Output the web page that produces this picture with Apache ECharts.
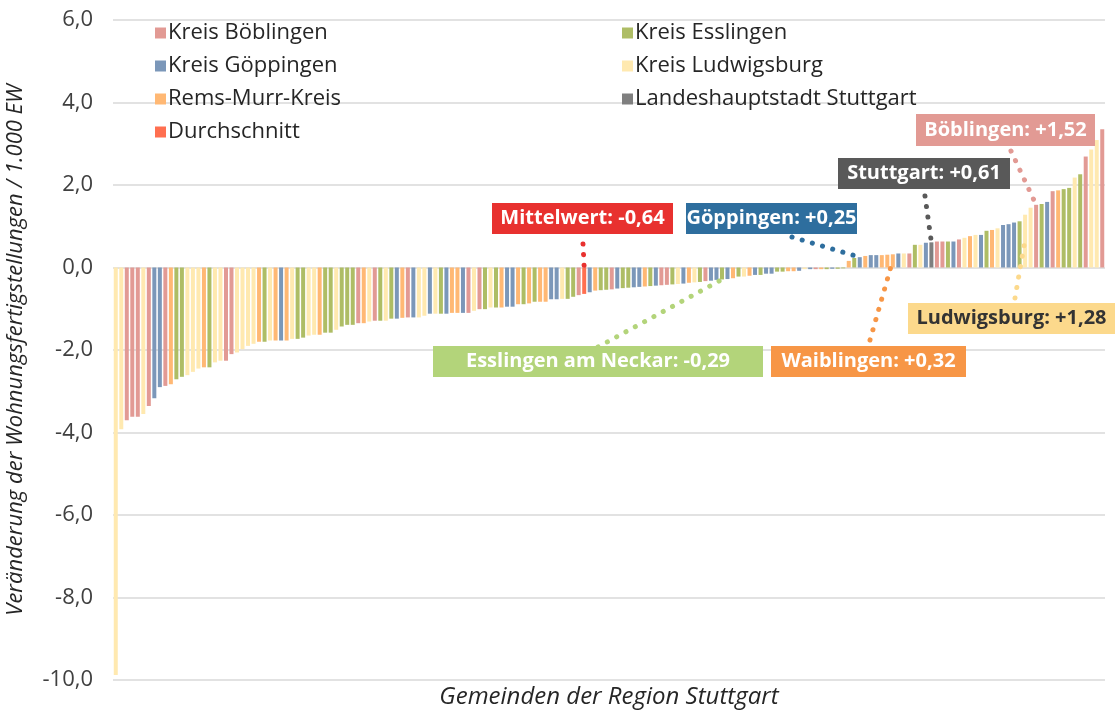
<!DOCTYPE html>
<html>
<head>
<meta charset="utf-8">
<script src="https://cdn.jsdelivr.net/npm/echarts@6/dist/echarts.min.js"></script>
<style>
  html, body { margin: 0; padding: 0; background: #fff; }
  #chart { width: 1115px; height: 711px; }
</style>
</head>
<body>
<div id="chart"></div>
<script>
// Kreis je Gemeinde (B=Böblingen, G=Göppingen, R=Rems-Murr, D=Durchschnitt, E=Esslingen, L=Ludwigsburg, S=Stuttgart)
var kreise = [
  'L','L','B','B','B','L','B','G','G','B','R','E','E','L','L','L','R','E','L','L',
  'B','B','L','L','L','L','R','E','L','R','G','R','L','E','E','L','L','R','E','E',
  'L','E','E','E','B','R','L','B','E','L','E','G','R','B','G','L','L','G','L','E',
  'G','R','R','G','B','L','B','E','L','E','R','G','G','R','E','R','E','R','R','G',
  'G','L','E','E','B','D','G','R','E','E','B','G','E','E','G','G','R','E','G','B',
  'B','E','L','G','R','L','E','B','G','G','E','G','R','E','L','R','G','E','G','G',
  'E','E','R','R','G','L','G','B','R','E','G','E','E','R','E','G','R','G','G','R',
  'R','R','G','L','B','E','L','G','S','B','B','E','G','B','L','R','L','G','E','R',
  'L','G','G','G','E','L','L','B','E','G','B','R','E','E','L','E','B','L','L','B'
];
// Veränderung der Wohnungsfertigstellungen je 1.000 EW
var werte = [
  -9.88,-3.92,-3.70,-3.62,-3.62,-3.55,-3.36,-3.17,-2.90,-2.87,-2.83,-2.71,-2.65,-2.61,-2.53,-2.45,-2.42,-2.42,-2.30,-2.26,
  -2.26,-2.10,-2.06,-1.98,-1.90,-1.85,-1.80,-1.80,-1.77,-1.77,-1.77,-1.77,-1.73,-1.73,-1.70,-1.65,-1.63,-1.63,-1.58,-1.58,
  -1.51,-1.43,-1.39,-1.39,-1.35,-1.35,-1.31,-1.29,-1.29,-1.29,-1.24,-1.24,-1.22,-1.21,-1.21,-1.21,-1.17,-1.12,-1.12,-1.12,
  -1.12,-1.10,-1.10,-1.10,-1.10,-1.05,-1.01,-1.01,-0.97,-0.97,-0.97,-0.95,-0.95,-0.89,-0.89,-0.87,-0.83,-0.83,-0.83,-0.77,
  -0.77,-0.76,-0.76,-0.71,-0.67,-0.64,-0.60,-0.56,-0.55,-0.54,-0.53,-0.51,-0.50,-0.49,-0.48,-0.47,-0.46,-0.45,-0.44,-0.43,
  -0.42,-0.41,-0.40,-0.39,-0.37,-0.36,-0.35,-0.33,-0.32,-0.30,-0.29,-0.28,-0.26,-0.22,-0.22,-0.20,-0.18,-0.18,-0.15,-0.15,
  -0.10,-0.10,-0.09,-0.09,-0.08,-0.04,-0.04,-0.04,-0.04,-0.04,-0.03,-0.03,-0.02,0.16,0.23,0.25,0.28,0.30,0.30,0.30,
  0.31,0.32,0.34,0.34,0.34,0.55,0.55,0.60,0.61,0.63,0.63,0.63,0.63,0.68,0.72,0.76,0.79,0.79,0.89,0.91,
  0.95,1.03,1.05,1.09,1.12,1.28,1.45,1.52,1.54,1.59,1.85,1.87,1.90,1.93,2.18,2.26,2.69,2.86,3.09,3.35
];
var gemeinden = werte.map(function (v, i) { return 'Gemeinde ' + (i + 1); });

var legende = [
  { key: 'B', name: 'Kreis Böblingen', color: '#E29A94' },
  { key: 'G', name: 'Kreis Göppingen', color: '#7B97B9' },
  { key: 'R', name: 'Rems-Murr-Kreis', color: '#FFB874' },
  { key: 'D', name: 'Durchschnitt', color: '#FF6F50' },
  { key: 'E', name: 'Kreis Esslingen', color: '#AEBD65' },
  { key: 'L', name: 'Kreis Ludwigsburg', color: '#FFE9B0' },
  { key: 'S', name: 'Landeshauptstadt Stuttgart', color: '#7F7F7F' }
];
var yTicks = [-10, -8, -6, -4, -2, 0, 2, 4, 6];

// Beschriftungen: Index der Gemeinde, Text, Farbe, Box, Startpunkt der Punktlinie, Endwert
var hinweise = [
  { idx: 167, text: 'Böblingen: +1,52', bg: '#E29A94', fg: '#fff', box: [916, 114, 179, 32], from: [1011, 151], endVal: 1.52 },
  { idx: 148, text: 'Stuttgart: +0,61', bg: '#595959', fg: '#fff', box: [838, 158, 172, 31], from: [925, 196], endVal: 0.61 },
  { idx: 85, text: 'Mittelwert: -0,64', bg: '#E8312F', fg: '#fff', box: [492, 203, 181, 31], from: [583, 244], endVal: 0 },
  { idx: 135, text: 'Göppingen: +0,25', bg: '#2E6E9E', fg: '#fff', box: [686, 203, 171, 31], from: [792, 237], endVal: 0.25 },
  { idx: 165, text: 'Ludwigsburg: +1,28', bg: '#FCD98C', fg: '#333', box: [908, 303, 207, 31], from: [1015, 298], endVal: 0.67 },
  { idx: 110, text: 'Esslingen am Neckar: -0,29', bg: '#B3D47A', fg: '#fff', box: [433, 346, 330, 31], from: [598, 347], endVal: -0.29 },
  { idx: 141, text: 'Waiblingen: +0,32', bg: '#F79646', fg: '#fff', box: [771, 346, 195, 31], from: [870, 340], endVal: 0.18 }
];

var chart = echarts.init(document.getElementById('chart'));

var series = legende.map(function (l) {
  return {
    name: l.name,
    type: 'bar',
    barWidth: 4,
    barGap: '-100%',
    itemStyle: { color: l.color },
    data: werte.map(function (v, i) { return kreise[i] === l.key ? v : '-'; })
  };
});

var option = {
  animation: false,
  textStyle: { fontFamily: 'Open Sans' },
  grid: { left: 113, right: 10, top: 20, bottom: 31, outerBoundsMode: 'none' },
  legend: [
    {
      orient: 'vertical', left: 150, top: 17, itemGap: 11,
      itemWidth: 11, itemHeight: 11, icon: 'rect',
      textStyle: { fontSize: 22, color: '#262626', lineHeight: 22, padding: [0, 0, 0, -3] },
      data: legende.slice(0, 4).map(function (l) { return l.name; })
    },
    {
      orient: 'vertical', left: 617, top: 17, itemGap: 11,
      itemWidth: 11, itemHeight: 11, icon: 'rect',
      textStyle: { fontSize: 22, color: '#262626', lineHeight: 22, padding: [0, 0, 0, -3] },
      data: legende.slice(4).map(function (l) { return l.name; })
    }
  ],
  xAxis: {
    type: 'category',
    data: gemeinden,
    name: 'Gemeinden der Region Stuttgart',
    nameLocation: 'middle',
    nameGap: 5,
    nameTextStyle: { fontSize: 24, fontStyle: 'italic', color: '#262626' },
    axisLine: { show: false },
    axisTick: { show: false },
    axisLabel: { show: false }
  },
  yAxis: {
    type: 'value',
    min: yTicks[0],
    max: yTicks[yTicks.length - 1],
    interval: 2,
    name: 'Veränderung der Wohnungsfertigstellungen / 1.000 EW',
    nameLocation: 'middle',
    nameGap: 86,
    nameTextStyle: { fontSize: 22, fontStyle: 'italic', color: '#262626' },
    axisLabel: {
      fontSize: 22, color: '#404040', margin: 20,
      formatter: function (v) { return v.toFixed(1).replace('.', ','); }
    },
    splitLine: { lineStyle: { color: '#D9D9D9', width: 1.5 } }
  },
  series: series
};

chart.setOption(option);

// Beschriftungen mit Punktlinien
var graphics = [];
hinweise.forEach(function (h) {
  var end = chart.convertToPixel({ xAxisIndex: 0, yAxisIndex: 0 }, [h.idx, h.endVal]);
  graphics.push({
    type: 'line', z: 100,
    shape: { x1: h.from[0], y1: h.from[1], x2: end[0], y2: end[1] },
    style: { stroke: h.bg, lineWidth: 5, lineDash: [0.1, 10.5], lineCap: 'round' }
  });
});
hinweise.forEach(function (h) {
  graphics.push({
    type: 'rect', z: 101,
    shape: { x: h.box[0], y: h.box[1], width: h.box[2], height: h.box[3] },
    style: { fill: h.bg }
  });
  graphics.push({
    type: 'text', z: 102,
    x: h.box[0] + h.box[2] / 2, y: h.box[1] + h.box[3] / 2,
    style: {
      text: h.text, fill: h.fg, font: 'bold 20px "Open Sans"',
      align: 'center', verticalAlign: 'middle'
    }
  });
});
chart.setOption({ graphic: graphics });
</script>
</body>
</html>
